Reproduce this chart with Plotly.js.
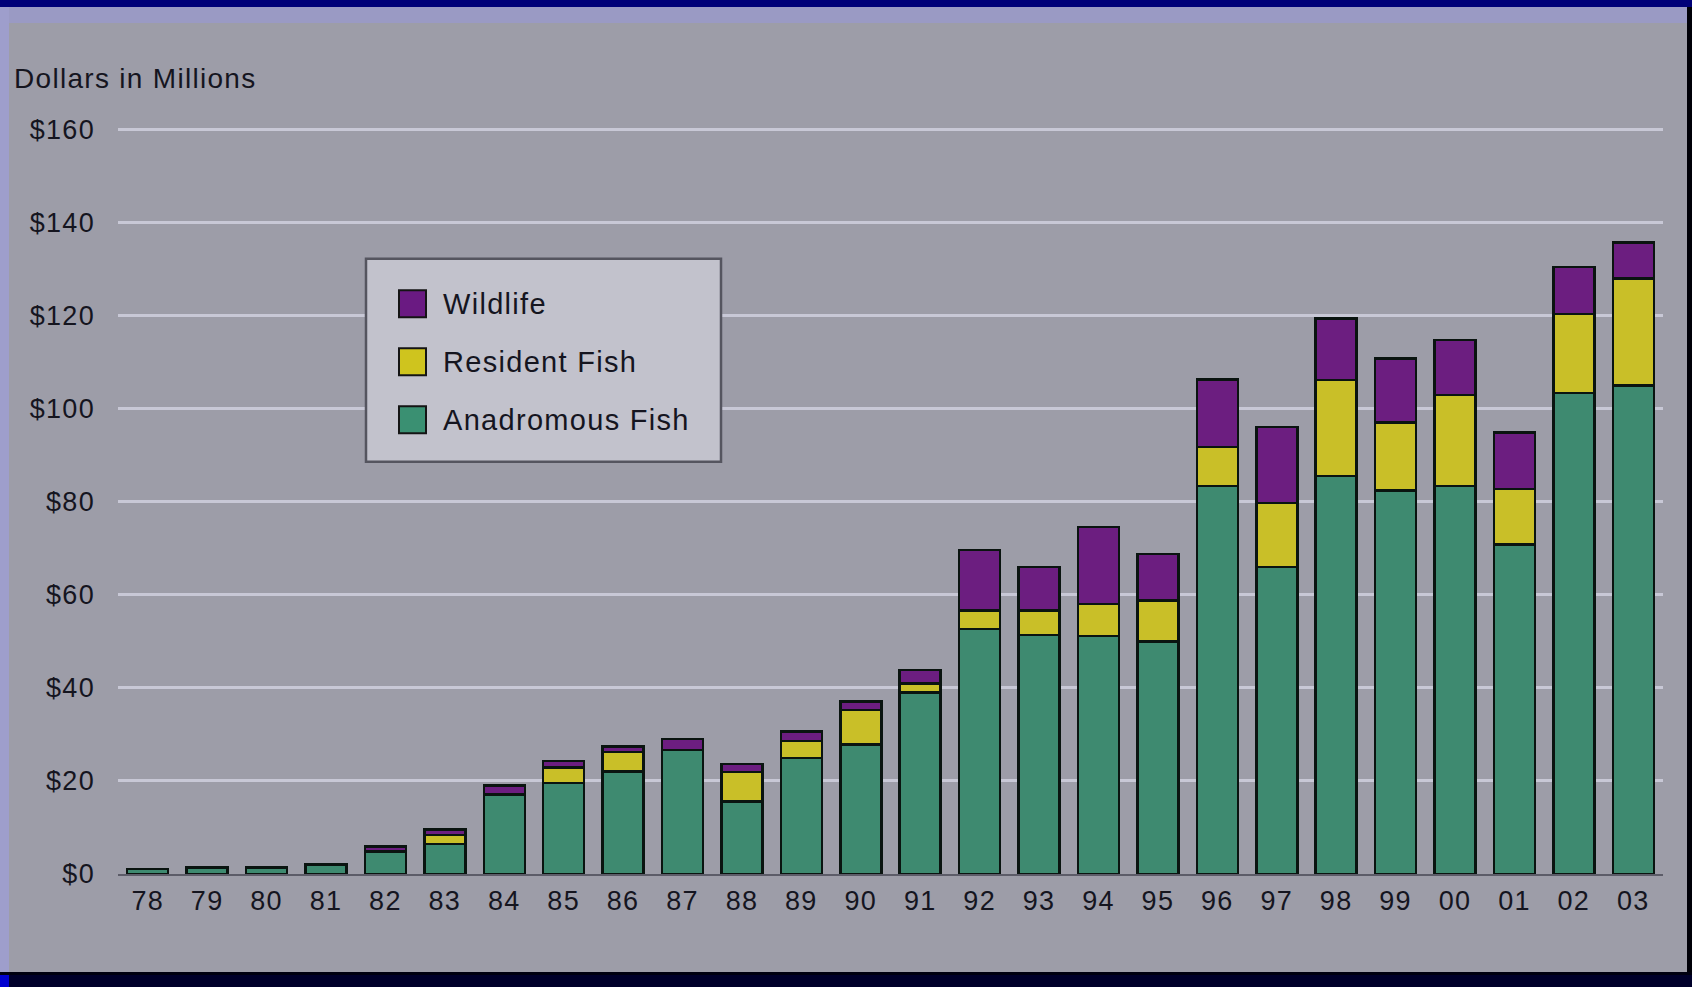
<!DOCTYPE html>
<html>
<head>
<meta charset="utf-8">
<script src="https://cdn.plot.ly/plotly-3.0.1.min.js"></script>
<style>
  html, body { margin: 0; padding: 0; background: #00002a; }
  #page { position: relative; width: 1692px; height: 987px; overflow: hidden; background: #00002a; }
  .band { position: absolute; }
  #chart { position: absolute; left: 0; top: 0; width: 1692px; height: 987px; }
  #chart .xtick text, #chart .ytick text, #chart .gtitle, #chart .annotation-text { letter-spacing: 1.3px; }
</style>
</head>
<body>
<div id="page">
  <div class="band" style="left:0;top:0;width:1692px;height:7px;background:#000078;"></div>
  <div class="band" style="left:0;top:7px;width:1687px;height:16px;background:#9a9ac4;"></div>
  <div class="band" style="left:0;top:7px;width:9px;height:965px;background:#9e9ecc;"></div>
  <div class="band" style="left:1687px;top:7px;width:5px;height:965px;background:#000008;"></div>
  <div class="band" style="left:9px;top:23px;width:1678px;height:949px;background:#9d9da8;"></div>
  <div class="band" style="left:0;top:972px;width:1692px;height:3px;background:#000010;"></div>
  <div class="band" style="left:0;top:975px;width:9px;height:12px;background:#0000d0;"></div>
  <div id="chart"></div>
</div>
<script>
// Fiscal years (two-digit labels)
const years = ['78','79','80','81','82','83','84','85','86','87','88','89','90',
               '91','92','93','94','95','96','97','98','99','00','01','02','03'];

// Spending by category, millions of dollars
const anadromousFish = [1.1, 1.4, 1.4, 2.0, 4.8, 6.5, 17.1, 19.6, 22.0, 26.7, 15.6, 24.9, 27.8,
                        39.0, 52.7, 51.4, 51.2, 50.0, 83.4, 66.0, 85.5, 82.4, 83.4, 70.8, 103.4, 105.0];
const residentFish   = [0, 0, 0, 0, 0, 1.9, 0, 3.3, 4.2, 0, 6.3, 3.7, 7.5,
                        2.0, 3.9, 5.2, 6.8, 8.8, 8.4, 13.7, 20.7, 14.6, 19.6, 12.0, 17.0, 23.0];
const wildlife       = [0, 0, 0, 0, 1.1, 1.2, 1.9, 1.4, 1.2, 2.3, 1.7, 2.0, 1.8,
                        2.9, 13.0, 9.4, 16.6, 10.0, 14.5, 16.4, 13.2, 13.8, 11.8, 12.1, 10.1, 7.7];

// Y axis ticks
const yTickValues = [0, 20, 40, 60, 80, 100, 120, 140, 160];
const yTickLabels = ['$0', '$20', '$40', '$60', '$80', '$100', '$120', '$140', '$160'];

// Series names, legend listed top to bottom
const seriesNames = ['Wildlife', 'Resident Fish', 'Anadromous Fish'];

// ---- styling ----
const colors = { 'Anadromous Fish': '#3e8a70', 'Resident Fish': '#c9bf28', 'Wildlife': '#6c1e80' };
const swatchColors = { 'Anadromous Fish': '#3a9072', 'Resident Fish': '#cfc41e', 'Wildlife': '#6a1a82' };
const outline = { color: '#0a1410', width: 2.5 };
const textColor = '#15151f';
const fontFamily = '"Liberation Sans", Arial, sans-serif';

// plot area in page pixels; the top gridline ($160) sits at y=130,
// the axis runs slightly above it so that gridline is drawn
const W = 1692, H = 987;
const yMax = 161;
const plotLeft = 118, plotRight = 1663, plotBottom = 874;
const plotTop = plotBottom - (plotBottom - 130) * yMax / 160;
const px2x = p => (p - plotLeft) / (plotRight - plotLeft);
const px2y = p => (plotBottom - p) / (plotBottom - plotTop);

function barTrace(name, values) {
  return {
    type: 'bar', name: name, x: years, y: values,
    marker: { color: colors[name], line: outline },
    showlegend: false, hoverinfo: 'skip'
  };
}

const data = [
  barTrace('Anadromous Fish', anadromousFish),
  barTrace('Resident Fish', residentFish),
  barTrace('Wildlife', wildlife)
];

// legend box drawn as a framed panel with swatches
const legendBox = { left: 366, right: 721, top: 259, bottom: 462 };
const itemCenters = [304, 362, 420];
const swatchLeft = 399, swatchSize = 27, labelLeft = 441;

const shapes = [{
  type: 'rect', xref: 'paper', yref: 'paper', layer: 'above',
  x0: px2x(legendBox.left), x1: px2x(legendBox.right),
  y0: px2y(legendBox.bottom), y1: px2y(legendBox.top),
  fillcolor: '#c2c2cc', line: { color: '#55555f', width: 2.5 }
}];
const annotations = [];
seriesNames.forEach((name, i) => {
  const cy = itemCenters[i];
  shapes.push({
    type: 'rect', xref: 'paper', yref: 'paper', layer: 'above',
    x0: px2x(swatchLeft), x1: px2x(swatchLeft + swatchSize),
    y0: px2y(cy + swatchSize / 2), y1: px2y(cy - swatchSize / 2),
    fillcolor: swatchColors[name], line: { color: '#141414', width: 2 }
  });
  annotations.push({
    xref: 'paper', yref: 'paper', x: px2x(labelLeft), y: px2y(cy),
    xanchor: 'left', yanchor: 'middle', align: 'left', showarrow: false,
    text: name, font: { family: fontFamily, size: 29, color: textColor }
  });
});

const layout = {
  width: W, height: H,
  paper_bgcolor: 'rgba(0,0,0,0)', plot_bgcolor: 'rgba(0,0,0,0)',
  margin: { l: plotLeft, r: W - plotRight, t: plotTop, b: H - plotBottom, pad: 0 },
  barmode: 'stack', bargap: 0.31,
  font: { family: fontFamily, color: textColor },
  title: {
    text: 'Dollars in Millions', xref: 'container', yref: 'container',
    x: 14 / W, xanchor: 'left', y: 1 - 78 / H, yanchor: 'middle',
    font: { family: fontFamily, size: 28, color: textColor }
  },
  xaxis: {
    type: 'category', showgrid: false, zeroline: false,
    showline: true, linecolor: '#5c5c68', linewidth: 2,
    ticks: '', tickfont: { size: 27, color: textColor }, ticklabelstandoff: 2
  },
  yaxis: {
    range: [0, yMax], tickvals: yTickValues, ticktext: yTickLabels,
    showgrid: true, gridcolor: '#c8c8d6', gridwidth: 3,
    zeroline: false, showline: false, ticks: '',
    tickfont: { size: 27, color: textColor }, ticklabelstandoff: 22
  },
  shapes: shapes,
  annotations: annotations,
  showlegend: false
};

Plotly.newPlot('chart', data, layout, { staticPlot: true, displayModeBar: false });
</script>
</body>
</html>
